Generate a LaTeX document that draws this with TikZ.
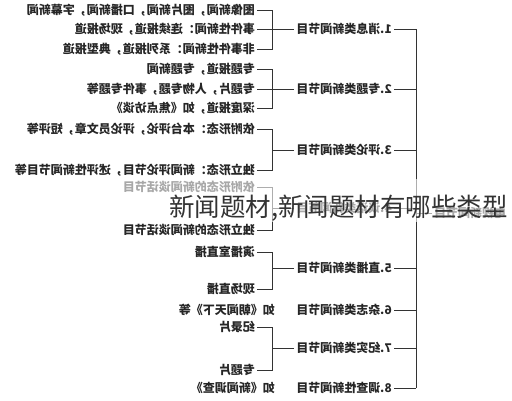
\documentclass[tikz,border=0pt]{standalone}
\usepackage{fontspec}
\setmainfont{Noto Sans CJK SC}

\tikzset{
  cat/.style={anchor=west, inner xsep=2pt, inner ysep=1pt, font=\fontsize{12}{14}\selectfont\bfseries, text=black!85},
  leaf/.style={anchor=west, inner xsep=2pt, inner ysep=1pt, font=\fontsize{12}{14}\selectfont\bfseries, text=black!85},
  wire/.style={draw=black!80, line width=0.8pt},
}

\begin{document}
\begin{tikzpicture}[x=1pt,y=-1pt]
  \useasboundingbox (0,0) rectangle (512,400);
  % the whole tree is printed mirrored
  \begin{scope}[shift={(512,0)}, xscale=-1, transform shape]
    \node[cat, anchor=east](root) at (80,213) {电视新闻节目};
    \node[cat](c1) at (118,29)  {1.消息类新闻节目};
    \node[cat](c2) at (118,89)  {2.专题类新闻节目};
    \node[cat](c3) at (118,150) {3.评论类新闻节目};
    \node[cat](c4) at (118,208) {4.谈话类新闻节目};
    \node[cat](c5) at (118,268) {5.直播类新闻节目};
    \node[cat](c6) at (118,310) {6.杂志类新闻节目};
    \node[cat](c7) at (118,348) {7.纪实类新闻节目};
    \node[cat](c8) at (118,388) {8.调查性新闻节目};

    \node[leaf](l1a) at (255,10)  {图像新闻，图片新闻，口播新闻，字幕新闻};
    \node[leaf](l1b) at (255,29)  {事件性新闻：连续报道，现场报道};
    \node[leaf](l1c) at (255,49)  {非事件性新闻：系列报道，典型报道};
    \node[leaf](l2a) at (255,69)  {专题报道，专题新闻};
    \node[leaf](l2b) at (255,89)  {专题片，人物专题，事件专题等};
    \node[leaf](l2c) at (255,108) {深度报道，如《焦点访谈》};
    \node[leaf](l3a) at (255,129) {依附形态：本台评论，评论员文章，短评等};
    \node[leaf](l3b) at (255,170) {独立形态：新闻评论节目，述评性新闻节目等};
    \node[leaf](l4a) at (255,187) {依附形态的新闻谈话节目};
    \node[leaf](l4b) at (255,230) {独立形态的新闻谈话节目};
    \node[leaf](l5a) at (255,252) {演播室直播};
    \node[leaf](l5b) at (255,289) {现场直播};
    \node[leaf](l6)  at (235,310) {如《朝闻天下》等};
    \node[leaf](l7a) at (255,327) {纪录片};
    \node[leaf](l7b) at (255,370) {专题片};
    \node[leaf](l8)  at (235,388) {如《新闻调查》};

    \coordinate (bar) at (96,213);
    \coordinate (bx) at (240,0);

    \draw[wire] (root.east) -- (bar);
    \draw[wire] (c1.west -| bar) -- (c8.west -| bar);
    \foreach \c in {c1,c2,c3,c4,c5,c6,c7,c8}
      \draw[wire] (\c.west -| bar) -- (\c.west);

    \foreach \g/\ga/\gb in {1/l1a/l1c, 2/l2a/l2c, 3/l3a/l3b, 4/l4a/l4b, 5/l5a/l5b, 7/l7a/l7b} {
      \draw[wire] (c\g.east) -- (c\g.east -| bx);
      \draw[wire] (\ga.west) -| (bx |- \gb.west) -- (\gb.west);
    }
    \draw[wire] (l1b.west) -- (l1b.west -| bx);
    \draw[wire] (l2b.west) -- (l2b.west -| bx);
  \end{scope}

  % faded band and the caption over it
  \fill[white, opacity=0.6] (105,179) rectangle (512,222);
  \node[anchor=west, inner sep=0pt, font=\fontsize{25.5}{28}\selectfont, text=black!80] (title) at (169,208) {新闻题材,新闻题材有哪些类型};
\end{tikzpicture}
\end{document}
